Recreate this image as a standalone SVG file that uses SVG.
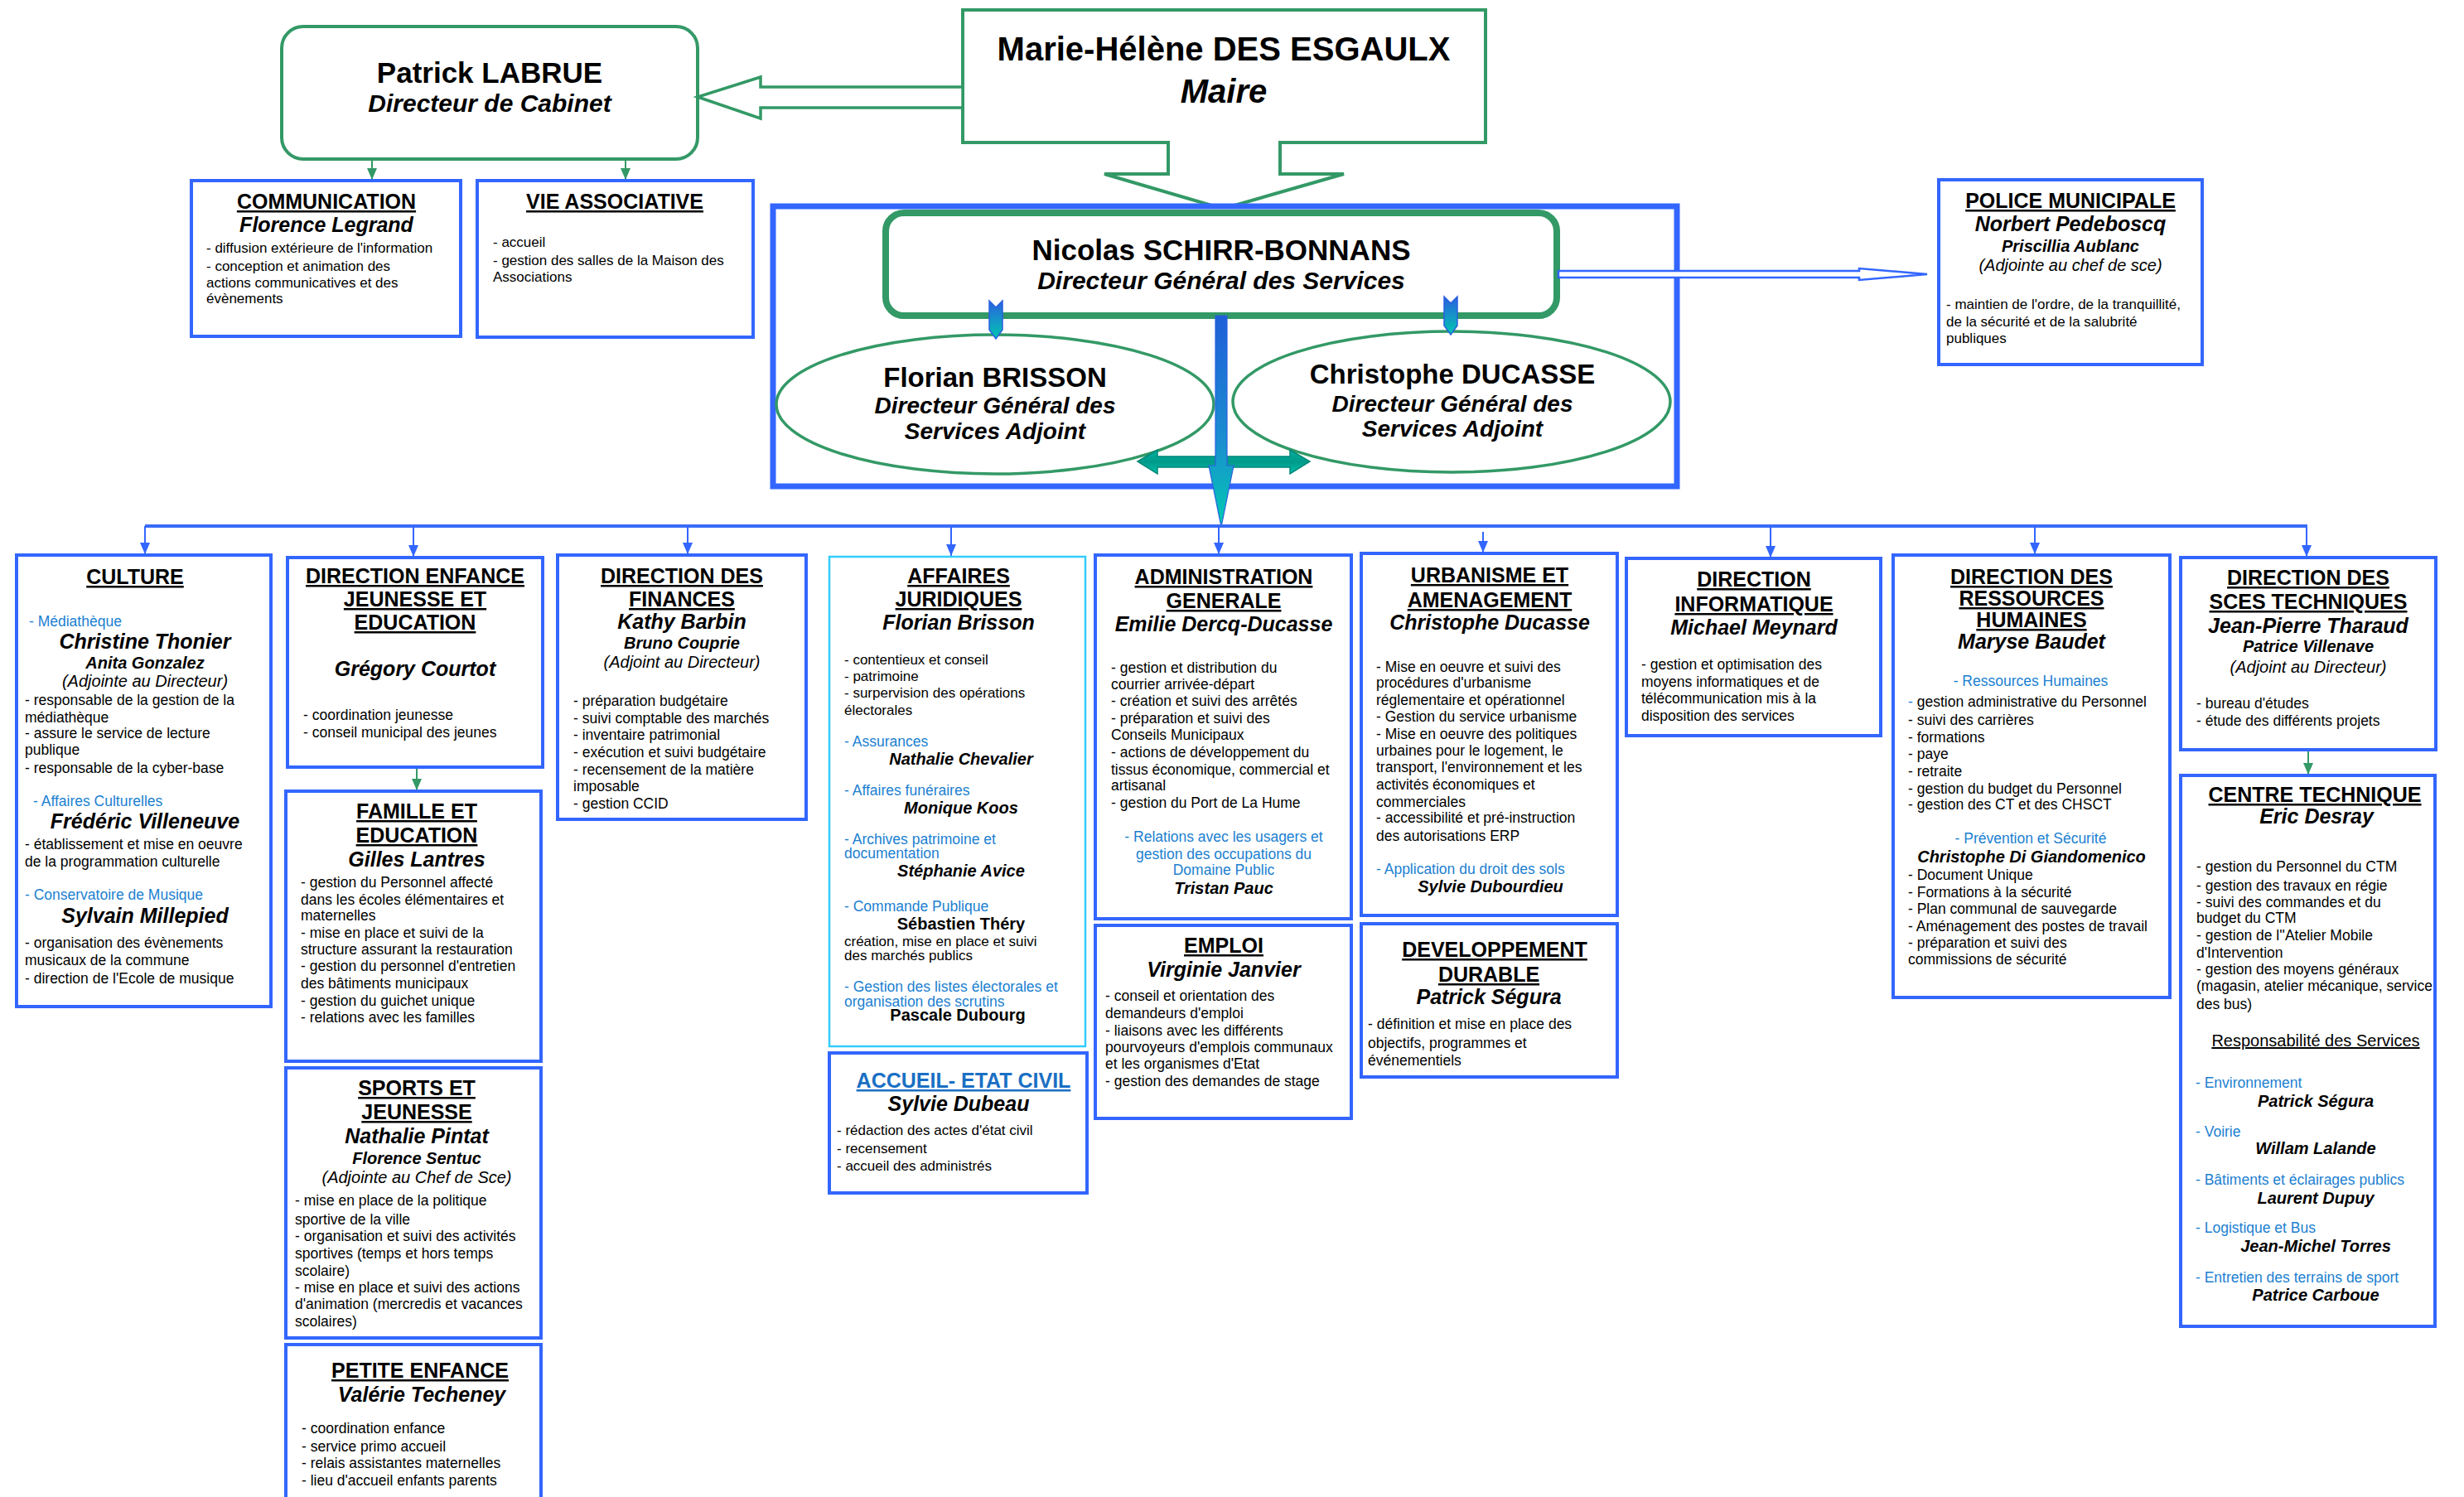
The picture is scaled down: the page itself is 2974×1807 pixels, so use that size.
<svg xmlns="http://www.w3.org/2000/svg" width="2974" height="1807" viewBox="0 0 2974 1807">
<style>
text{font-family:"Liberation Sans",Arial,sans-serif;fill:#000}
.t{font-size:25px;font-weight:700;text-anchor:middle;text-decoration:underline}
.n{font-size:25px;font-weight:700;font-style:italic;text-anchor:middle}
.s{font-size:20px;font-weight:700;font-style:italic;text-anchor:middle}
.sb{font-size:20px;font-weight:700;text-anchor:middle}
.a{font-size:20px;font-style:italic;text-anchor:middle}
.b{font-size:17.5px}
.b17{font-size:17px}
.c{font-size:17.5px;fill:#1b7fd1}
.cm{font-size:17.5px;fill:#1b7fd1;text-anchor:middle}
.box{fill:#fff;stroke:#3366ff;stroke-width:4}
.gbox{fill:#fff;stroke:#339966}
.drop{stroke:#3366ff;stroke-width:2;fill:none}
.gl{stroke:#339966;stroke-width:2;fill:none}
</style>
<defs>
<marker id="ab" viewBox="0 0 14 12" refX="14" refY="6" markerWidth="14" markerHeight="12" markerUnits="userSpaceOnUse" orient="auto"><path d="M0,0 L14,6 L0,12 z" fill="#3366ff"/></marker>
<marker id="ag" viewBox="0 0 14 12" refX="14" refY="6" markerWidth="14" markerHeight="12" markerUnits="userSpaceOnUse" orient="auto"><path d="M0,0 L14,6 L0,12 z" fill="#339966"/></marker>
<linearGradient id="gv" x1="0" y1="0" x2="0" y2="1"><stop offset="0" stop-color="#1f5fd8"/><stop offset="0.6" stop-color="#1a8fd0"/><stop offset="1" stop-color="#00ccb0"/></linearGradient>
<linearGradient id="gs" x1="0" y1="0" x2="0" y2="1"><stop offset="0" stop-color="#2a60e0"/><stop offset="1" stop-color="#00c8b0"/></linearGradient>
<linearGradient id="gh" x1="0" y1="0" x2="0" y2="1"><stop offset="0" stop-color="#00b0a0"/><stop offset="0.5" stop-color="#009a8a"/><stop offset="1" stop-color="#00c0aa"/></linearGradient>
</defs>
<rect width="2974" height="1807" fill="#fff"/>

<g id="maire">
<path class="gbox" stroke-width="4" d="M1162,12 L1793,12 L1793,172 L1545,172 L1545,210 L1622,210 L1476,252 L1333,210 L1410,210 L1410,172 L1162,172 Z"/>
<text x="1477" y="73" style="font-size:40px;font-weight:700;text-anchor:middle">Marie-Hélène DES ESGAULX</text>
<text x="1477" y="124" style="font-size:40px;font-weight:700;font-style:italic;text-anchor:middle">Maire</text>
</g>

<g id="cabinet">
<rect class="gbox" stroke-width="4" x="340" y="32" width="502" height="160" rx="26"/>
<text x="591" y="100" style="font-size:35px;font-weight:700;text-anchor:middle">Patrick LABRUE</text>
<text x="591" y="135" style="font-size:30px;font-weight:700;font-style:italic;text-anchor:middle">Directeur de Cabinet</text>
</g>

<g id="dgs-frame">
<rect x="933" y="249" width="1091" height="338" fill="#fff" stroke="#3366ff" stroke-width="7"/>
</g>

<g id="dgs">
<rect class="gbox" stroke-width="8" x="1069" y="257" width="810" height="124" rx="22"/>
<text x="1474" y="314" style="font-size:35px;font-weight:700;text-anchor:middle">Nicolas SCHIRR-BONNANS</text>
<text x="1474" y="349" style="font-size:30px;font-weight:700;font-style:italic;text-anchor:middle">Directeur Général des Services</text>
</g>

<g id="dgsa-brisson">
<ellipse class="gbox" stroke-width="3.5" cx="1201" cy="488" rx="264" ry="84"/>
<text x="1201" y="467" style="font-size:33px;font-weight:700;text-anchor:middle">Florian BRISSON</text>
<text x="1201" y="499" style="font-size:28px;font-weight:700;font-style:italic;text-anchor:middle">Directeur Général des</text>
<text x="1201" y="530" style="font-size:28px;font-weight:700;font-style:italic;text-anchor:middle">Services Adjoint</text>
</g>

<g id="dgsa-ducasse">
<ellipse class="gbox" stroke-width="3.5" cx="1752" cy="485" rx="264" ry="85"/>
<text x="1753" y="463" style="font-size:33px;font-weight:700;text-anchor:middle">Christophe DUCASSE</text>
<text x="1753" y="497" style="font-size:28px;font-weight:700;font-style:italic;text-anchor:middle">Directeur Général des</text>
<text x="1753" y="527" style="font-size:28px;font-weight:700;font-style:italic;text-anchor:middle">Services Adjoint</text>
</g>

<g id="connectors">
<polygon points="1162,105 918,105 918,93 842,117 918,143 918,130 1162,130" fill="#fff" stroke="#339966" stroke-width="3.5"/>
<polygon points="1881,327 2244,327 2244,324 2326,331 2244,338 2244,335 1881,335" fill="#fff" stroke="#3366ff" stroke-width="2.5"/>
<line class="gl" x1="449" y1="192" x2="449" y2="217" marker-end="url(#ag)"/>
<line class="gl" x1="755" y1="192" x2="755" y2="217" marker-end="url(#ag)"/>
<polygon points="1194,363 1202,371 1210,363 1210,398 1202,409 1194,398" fill="url(#gs)" stroke="#2a60e0" stroke-width="1.5"/>
<polygon points="1743,358 1751,366 1759,358 1759,393 1751,404 1743,393" fill="url(#gs)" stroke="#2a60e0" stroke-width="1.5"/>
<polygon points="1373,557 1397,543 1397,551 1557,551 1557,543 1581,557 1557,572 1557,564 1397,564 1397,572" fill="url(#gh)" stroke="#008878" stroke-width="1.5"/>
<polygon points="1467,381 1481,381 1481,562 1489,562 1474,636 1459,562 1467,562" fill="url(#gv)" stroke="#2a60e0" stroke-width="1.2"/>
<line x1="175" y1="635" x2="2785" y2="635" stroke="#3a6cf8" stroke-width="4"/>
<line class="drop" x1="175" y1="635" x2="175" y2="669" marker-end="url(#ab)"/>
<line class="drop" x1="499" y1="635" x2="499" y2="672" marker-end="url(#ab)"/>
<line class="drop" x1="830" y1="635" x2="830" y2="669" marker-end="url(#ab)"/>
<line class="drop" x1="1148" y1="635" x2="1148" y2="671" marker-end="url(#ab)"/>
<line class="drop" x1="1471" y1="635" x2="1471" y2="669" marker-end="url(#ab)"/>
<line class="drop" x1="1790" y1="642" x2="1790" y2="667" marker-end="url(#ab)"/>
<line class="drop" x1="2137" y1="635" x2="2137" y2="673" marker-end="url(#ab)"/>
<line class="drop" x1="2456" y1="635" x2="2456" y2="669" marker-end="url(#ab)"/>
<line class="drop" x1="2784" y1="635" x2="2784" y2="672" marker-end="url(#ab)"/>
<line class="gl" x1="503" y1="926" x2="503" y2="954" marker-end="url(#ag)"/>
<line class="gl" x1="2786" y1="905" x2="2786" y2="935" marker-end="url(#ag)"/>
</g>

<g id="communication">
<rect class="box" x="231" y="218" width="325" height="188"/>
<text class="t" x="394" y="252">COMMUNICATION</text>
<text class="n" x="394" y="280">Florence Legrand</text>
<text class="b17" x="249" y="305">- diffusion extérieure de l'information</text>
<text class="b17" x="249" y="327">- conception et animation des</text>
<text class="b17" x="249" y="347">actions communicatives et des</text>
<text class="b17" x="249" y="366">évènements</text>
</g>

<g id="vie-associative">
<rect class="box" x="576" y="218" width="333" height="189"/>
<text class="t" x="742" y="252">VIE ASSOCIATIVE</text>
<text class="b17" x="595" y="298">- accueil</text>
<text class="b17" x="595" y="320">- gestion des salles de la Maison des</text>
<text class="b17" x="595" y="340">Associations</text>
</g>

<g id="police">
<rect class="box" x="2340" y="217" width="318" height="223"/>
<text class="t" x="2499" y="251">POLICE MUNICIPALE</text>
<text class="n" x="2499" y="279">Norbert Pedeboscq</text>
<text class="s" x="2499" y="304">Priscillia Aublanc</text>
<text class="a" x="2499" y="327">(Adjointe au chef de sce)</text>
<text class="b17" x="2349" y="373">- maintien de l'ordre, de la tranquillité,</text>
<text class="b17" x="2349" y="394">de la sécurité et de la salubrité</text>
<text class="b17" x="2349" y="414">publiques</text>
</g>

<g id="culture">
<rect class="box" x="20" y="670" width="307" height="545"/>
<text class="t" x="163" y="705">CULTURE</text>
<text class="c" x="35" y="756">- Médiathèque</text>
<text class="n" x="175" y="783">Christine Thonier</text>
<text class="s" x="175" y="807">Anita Gonzalez</text>
<text class="a" x="175" y="829">(Adjointe au Directeur)</text>
<text class="b" x="30" y="851">- responsable de la gestion de la</text>
<text class="b" x="30" y="872">médiathèque</text>
<text class="b" x="30" y="891">- assure le service de lecture</text>
<text class="b" x="30" y="911">publique</text>
<text class="b" x="30" y="933">- responsable de la cyber-base</text>
<text class="c" x="40" y="973">- Affaires Culturelles</text>
<text class="n" x="175" y="1000">Frédéric Villeneuve</text>
<text class="b" x="30" y="1025">- établissement et mise en oeuvre</text>
<text class="b" x="30" y="1046">de la programmation culturelle</text>
<text class="c" x="30" y="1086">- Conservatoire de Musique</text>
<text class="n" x="175" y="1114">Sylvain Millepied</text>
<text class="b" x="30" y="1144">- organisation des évènements</text>
<text class="b" x="30" y="1165">musicaux de la commune</text>
<text class="b" x="30" y="1187">- direction de l'Ecole de musique</text>
</g>

<g id="enfance">
<rect class="box" x="347" y="673" width="308" height="253"/>
<text class="t" x="501" y="704">DIRECTION ENFANCE</text>
<text class="t" x="501" y="732">JEUNESSE ET</text>
<text class="t" x="501" y="760">EDUCATION</text>
<text class="n" x="501" y="816">Grégory Courtot</text>
<text class="b" x="366" y="869">- coordination jeunesse</text>
<text class="b" x="366" y="890">- conseil municipal des jeunes</text>
</g>

<g id="famille">
<rect class="box" x="345" y="955" width="308" height="326"/>
<text class="t" x="503" y="988">FAMILLE ET</text>
<text class="t" x="503" y="1017">EDUCATION</text>
<text class="n" x="503" y="1046">Gilles Lantres</text>
<text class="b" x="363" y="1071">- gestion du Personnel affecté</text>
<text class="b" x="363" y="1092">dans les écoles élémentaires et</text>
<text class="b" x="363" y="1111">maternelles</text>
<text class="b" x="363" y="1132">- mise en place et suivi de la</text>
<text class="b" x="363" y="1152">structure assurant la restauration</text>
<text class="b" x="363" y="1172">- gestion du personnel d'entretien</text>
<text class="b" x="363" y="1193">des bâtiments municipaux</text>
<text class="b" x="363" y="1214">- gestion du guichet unique</text>
<text class="b" x="363" y="1234">- relations avec les familles</text>
</g>

<g id="sports">
<rect class="box" x="345" y="1289" width="308" height="326"/>
<text class="t" x="503" y="1322">SPORTS ET</text>
<text class="t" x="503" y="1351">JEUNESSE</text>
<text class="n" x="503" y="1380">Nathalie Pintat</text>
<text class="s" x="503" y="1405">Florence Sentuc</text>
<text class="a" x="503" y="1428">(Adjointe au Chef de Sce)</text>
<text class="b" x="356" y="1455">- mise en place de la politique</text>
<text class="b" x="356" y="1478">sportive de la ville</text>
<text class="b" x="356" y="1498">- organisation et suivi des activités</text>
<text class="b" x="356" y="1519">sportives (temps et hors temps</text>
<text class="b" x="356" y="1540">scolaire)</text>
<text class="b" x="356" y="1560">- mise en place et suivi des actions</text>
<text class="b" x="356" y="1580">d'animation (mercredis et vacances</text>
<text class="b" x="356" y="1601">scolaires)</text>
</g>

<g id="petite-enfance">
<rect class="box" x="345" y="1623" width="308" height="200"/>
<text class="t" x="507" y="1663">PETITE ENFANCE</text>
<text class="n" x="509" y="1692">Valérie Techeney</text>
<text class="b" x="364" y="1730">- coordination enfance</text>
<text class="b" x="364" y="1752">- service primo accueil</text>
<text class="b" x="364" y="1772">- relais assistantes maternelles</text>
<text class="b" x="364" y="1793">- lieu d'accueil enfants parents</text>
</g>

<g id="finances">
<rect class="box" x="673" y="670" width="300" height="319"/>
<text class="t" x="823" y="704">DIRECTION DES</text>
<text class="t" x="823" y="732">FINANCES</text>
<text class="n" x="823" y="759">Kathy Barbin</text>
<text class="s" x="823" y="783">Bruno Couprie</text>
<text class="a" x="823" y="806">(Adjoint au Directeur)</text>
<text class="b" x="692" y="852">- préparation budgétaire</text>
<text class="b" x="692" y="873">- suivi comptable des marchés</text>
<text class="b" x="692" y="893">- inventaire patrimonial</text>
<text class="b" x="692" y="914">- exécution et suivi budgétaire</text>
<text class="b" x="692" y="935">- recensement de la matière</text>
<text class="b" x="692" y="955">imposable</text>
<text class="b" x="692" y="976">- gestion CCID</text>
</g>

<g id="affaires-juridiques">
<rect x="1001" y="672" width="309" height="591" fill="#fff" stroke="#33ccff" stroke-width="2.5"/>
<text class="t" x="1157" y="704">AFFAIRES</text>
<text class="t" x="1157" y="732">JURIDIQUES</text>
<text class="n" x="1157" y="760">Florian Brisson</text>
<text class="b17" x="1019" y="802">- contentieux et conseil</text>
<text class="b17" x="1019" y="822">- patrimoine</text>
<text class="b17" x="1019" y="842">- surpervision des opérations</text>
<text class="b17" x="1019" y="863">électorales</text>
<text class="c" x="1019" y="901">- Assurances</text>
<text class="s" x="1160" y="923">Nathalie Chevalier</text>
<text class="c" x="1019" y="960">- Affaires funéraires</text>
<text class="s" x="1160" y="982">Monique Koos</text>
<text class="c" x="1019" y="1019">- Archives patrimoine et</text>
<text class="c" x="1019" y="1036">documentation</text>
<text class="s" x="1160" y="1058">Stéphanie Avice</text>
<text class="c" x="1019" y="1100">- Commande Publique</text>
<text class="sb" x="1160" y="1122">Sébastien Théry</text>
<text class="b17" x="1019" y="1142">création, mise en place et suivi</text>
<text class="b17" x="1019" y="1159">des marchés publics</text>
<text class="c" x="1019" y="1197">- Gestion des listes électorales et</text>
<text class="c" x="1019" y="1215">organisation des scrutins</text>
<text class="sb" x="1156" y="1232">Pascale Dubourg</text>
</g>

<g id="accueil">
<rect class="box" x="1001" y="1271" width="311" height="169"/>
<text class="t" x="1163" y="1313" style="fill:#1a6fc4">ACCUEIL- ETAT CIVIL</text>
<text class="n" x="1157" y="1341">Sylvie Dubeau</text>
<text class="b17" x="1010" y="1370">- rédaction des actes d'état civil</text>
<text class="b17" x="1010" y="1392">- recensement</text>
<text class="b17" x="1010" y="1413">- accueil des administrés</text>
</g>

<g id="administration">
<rect class="box" x="1322" y="670" width="309" height="439"/>
<text class="t" x="1477" y="705">ADMINISTRATION</text>
<text class="t" x="1477" y="734">GENERALE</text>
<text class="n" x="1477" y="762">Emilie Dercq-Ducasse</text>
<text class="b" x="1341" y="812">- gestion et distribution du</text>
<text class="b" x="1341" y="832">courrier arrivée-départ</text>
<text class="b" x="1341" y="852">- création et suivi des arrêtés</text>
<text class="b" x="1341" y="873">- préparation et suivi des</text>
<text class="b" x="1341" y="893">Conseils Municipaux</text>
<text class="b" x="1341" y="914">- actions de développement du</text>
<text class="b" x="1341" y="935">tissus économique, commercial et</text>
<text class="b" x="1341" y="954">artisanal</text>
<text class="b" x="1341" y="975">- gestion du Port de La Hume</text>
<text class="cm" x="1477" y="1016">- Relations avec les usagers et</text>
<text class="cm" x="1477" y="1037">gestion des occupations du</text>
<text class="cm" x="1477" y="1056">Domaine Public</text>
<text class="s" x="1477" y="1079">Tristan Pauc</text>
</g>

<g id="emploi">
<rect class="box" x="1322" y="1117" width="309" height="233"/>
<text class="t" x="1477" y="1150">EMPLOI</text>
<text class="n" x="1477" y="1179">Virginie Janvier</text>
<text class="b" x="1334" y="1208">- conseil et orientation des</text>
<text class="b" x="1334" y="1229">demandeurs d'emploi</text>
<text class="b" x="1334" y="1250">- liaisons avec les différents</text>
<text class="b" x="1334" y="1270">pourvoyeurs d'emplois communaux</text>
<text class="b" x="1334" y="1290">et les organismes d'Etat</text>
<text class="b" x="1334" y="1311">- gestion des demandes de stage</text>
</g>

<g id="urbanisme">
<rect class="box" x="1643" y="668" width="309" height="437"/>
<text class="t" x="1798" y="703">URBANISME ET</text>
<text class="t" x="1798" y="733">AMENAGEMENT</text>
<text class="n" x="1798" y="760">Christophe Ducasse</text>
<text class="b" x="1661" y="811">- Mise en oeuvre et suivi des</text>
<text class="b" x="1661" y="830">procédures d'urbanisme</text>
<text class="b" x="1661" y="851">réglementaire et opérationnel</text>
<text class="b" x="1661" y="871">- Gestion du service urbanisme</text>
<text class="b" x="1661" y="892">- Mise en oeuvre des politiques</text>
<text class="b" x="1661" y="912">urbaines pour le logement, le</text>
<text class="b" x="1661" y="932">transport, l'environnement et les</text>
<text class="b" x="1661" y="953">activités économiques et</text>
<text class="b" x="1661" y="974">commerciales</text>
<text class="b" x="1661" y="993">- accessibilité et pré-instruction</text>
<text class="b" x="1661" y="1015">des autorisations ERP</text>
<text class="c" x="1661" y="1055">- Application du droit des sols</text>
<text class="s" x="1799" y="1077">Sylvie Dubourdieu</text>
</g>

<g id="developpement-durable">
<rect class="box" x="1643" y="1115" width="309" height="185"/>
<text class="t" x="1804" y="1155">DEVELOPPEMENT</text>
<text class="t" x="1797" y="1185">DURABLE</text>
<text class="n" x="1797" y="1212">Patrick Ségura</text>
<text class="b" x="1651" y="1242">- définition et mise en place des</text>
<text class="b" x="1651" y="1265">objectifs, programmes et</text>
<text class="b" x="1651" y="1286">événementiels</text>
</g>

<g id="informatique">
<rect class="box" x="1963" y="674" width="307" height="214"/>
<text class="t" x="2117" y="708">DIRECTION</text>
<text class="t" x="2117" y="738">INFORMATIQUE</text>
<text class="n" x="2117" y="766">Michael Meynard</text>
<text class="b" x="1981" y="808">- gestion et optimisation des</text>
<text class="b" x="1981" y="829">moyens informatiques et de</text>
<text class="b" x="1981" y="849">télécommunication mis à la</text>
<text class="b" x="1981" y="870">disposition des services</text>
</g>

<g id="ressources-humaines">
<rect class="box" x="2285" y="670" width="334" height="534"/>
<text class="t" x="2452" y="705">DIRECTION DES</text>
<text class="t" x="2452" y="731">RESSOURCES</text>
<text class="t" x="2452" y="757">HUMAINES</text>
<text class="n" x="2452" y="783">Maryse Baudet</text>
<text class="cm" x="2451" y="828">- Ressources Humaines</text>
<text class="b" x="2303" y="853"><tspan fill="#1b7fd1">-</tspan> gestion administrative du Personnel</text>
<text class="b" x="2303" y="875">- suivi des carrières</text>
<text class="b" x="2303" y="896">- formations</text>
<text class="b" x="2303" y="916">- paye</text>
<text class="b" x="2303" y="937">- retraite</text>
<text class="b" x="2303" y="958">- gestion du budget du Personnel</text>
<text class="b" x="2303" y="977">- gestion des CT et des CHSCT</text>
<text class="cm" x="2451" y="1018">- Prévention et Sécurité</text>
<text class="s" x="2452" y="1041">Christophe Di Giandomenico</text>
<text class="b" x="2303" y="1062">- Document Unique</text>
<text class="b" x="2303" y="1083">- Formations à la sécurité</text>
<text class="b" x="2303" y="1103">- Plan communal de sauvegarde</text>
<text class="b" x="2303" y="1124">- Aménagement des postes de travail</text>
<text class="b" x="2303" y="1144">- préparation et suivi des</text>
<text class="b" x="2303" y="1164">commissions de sécurité</text>
</g>

<g id="services-techniques">
<rect class="box" x="2632" y="673" width="308" height="232"/>
<text class="t" x="2786" y="706">DIRECTION DES</text>
<text class="t" x="2786" y="735">SCES TECHNIQUES</text>
<text class="n" x="2786" y="764">Jean-Pierre Tharaud</text>
<text class="s" x="2786" y="787">Patrice Villenave</text>
<text class="a" x="2786" y="812">(Adjoint au Directeur)</text>
<text class="b" x="2651" y="855">- bureau d'études</text>
<text class="b" x="2651" y="876">- étude des différents projets</text>
</g>

<g id="centre-technique">
<rect class="box" x="2632" y="936" width="307" height="665"/>
<text class="t" x="2794" y="968">CENTRE TECHNIQUE</text>
<text class="n" x="2796" y="994">Eric Desray</text>
<text class="b" x="2651" y="1052">- gestion du Personnel du CTM</text>
<text class="b" x="2651" y="1075">- gestion des travaux en régie</text>
<text class="b" x="2651" y="1095">- suivi des commandes et du</text>
<text class="b" x="2651" y="1114">budget du CTM</text>
<text class="b" x="2651" y="1135">- gestion de l''Atelier Mobile</text>
<text class="b" x="2651" y="1156">d'Intervention</text>
<text class="b" x="2651" y="1176">- gestion des moyens généraux</text>
<text class="b" x="2651" y="1196">(magasin, atelier mécanique, service</text>
<text class="b" x="2651" y="1218">des bus)</text>
<text x="2795" y="1263" style="font-size:20px;text-anchor:middle;text-decoration:underline">Responsabilité des Services</text>
<text class="c" x="2650" y="1313">- Environnement</text>
<text class="s" x="2795" y="1336">Patrick Ségura</text>
<text class="c" x="2650" y="1372">- Voirie</text>
<text class="s" x="2795" y="1393">Willam Lalande</text>
<text class="c" x="2650" y="1430">- Bâtiments et éclairages publics</text>
<text class="s" x="2795" y="1453">Laurent Dupuy</text>
<text class="c" x="2650" y="1488">- Logistique et Bus</text>
<text class="s" x="2795" y="1511">Jean-Michel Torres</text>
<text class="c" x="2650" y="1548">- Entretien des terrains de sport</text>
<text class="s" x="2795" y="1570">Patrice Carboue</text>
</g>
</svg>
